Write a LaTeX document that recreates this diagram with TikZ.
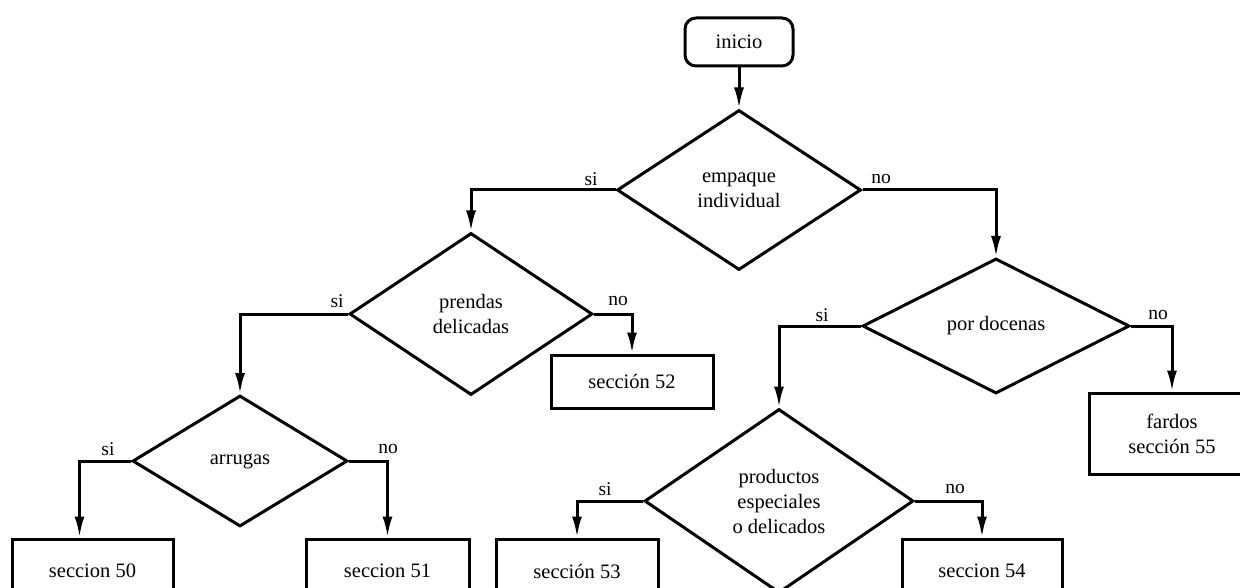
\documentclass[tikz,border=0pt]{standalone}
\usepackage{fontspec}
\setmainfont{Liberation Serif}
\usetikzlibrary{shapes.geometric,arrows.meta}

\begin{document}
\begin{tikzpicture}[
  x=1pt, y=-1pt,
  every node/.style={font=\fontsize{20.5}{25}\selectfont, align=center, inner sep=0pt},
  flow/.style={line width=3pt, line join=miter},
  arr/.style={flow, -{Latex[length=21pt,width=10pt]}},
  decision/.style={flow, draw, diamond},
  stepbox/.style={flow, draw, rectangle},
  startbox/.style={flow, draw, rectangle, rounded corners=11pt, minimum width=108pt, minimum height=48pt},
  lbl/.style={font=\fontsize{19.5}{23}\selectfont}
]
\useasboundingbox (0,0) rectangle (1240,588);
\clip (0,0) rectangle (1240,588);

% start
\node[startbox] (ini) at (739,42) {inicio};

% decisions
\node[decision, minimum width=244pt, minimum height=160pt] (d1) at (739,190) {empaque\\individual};
\node[decision, minimum width=243pt, minimum height=162pt] (d2) at (471,314) {prendas\\delicadas};
\node[decision, minimum width=215pt, minimum height=131pt] (d3) at (240,461) {arrugas};
\node[decision, minimum width=267pt, minimum height=135pt] (d4) at (996,326) {por docenas};
\node[decision, minimum width=269pt, minimum height=184pt] (d5) at (779,501) {productos\\especiales\\o delicados};

% destinations
\node[stepbox, minimum width=162pt, minimum height=53pt] (b52) at (632,381.5) {sección 52};
\node[stepbox, minimum width=161pt, minimum height=64pt] (b50) at (92.5,571) {seccion 50};
\node[stepbox, minimum width=163pt, minimum height=64pt] (b51) at (387.5,571) {seccion 51};
\node[stepbox, minimum width=162pt, minimum height=64pt] (b53) at (577,571) {sección 53};
\node[stepbox, minimum width=160pt, minimum height=64pt] (b54) at (982,571) {seccion 54};
\node[stepbox, minimum width=166pt, minimum height=81pt] (b55) at (1172,433.5) {fardos\\sección 55};

% connectors
\draw[arr] (ini.south) -- (d1.north);
\draw[arr] (d1.west) -| (d2.north);
\draw[arr] (d1.east) -| (d4.north);
\draw[arr] (d2.west) -| (d3.north);
\draw[arr] (d2.east) -| (b52.north);
\draw[arr] (d3.west) -| ([xshift=-13pt]b50.north);
\draw[arr] (d3.east) -| (b51.north);
\draw[arr] (d4.west) -| (d5.north);
\draw[arr] (d4.east) -| (b55.north);
\draw[arr] (d5.west) -| (b53.north);
\draw[arr] (d5.east) -| (b54.north);

% branch labels
\node[lbl] (s1) at (591,179) {si};
\node[lbl] (n1) at (881,179) {no};
\node[lbl] (s2) at (337,301) {si};
\node[lbl] (n2) at (618,301) {no};
\node[lbl] (s3) at (108,449) {si};
\node[lbl] (n3) at (388,449) {no};
\node[lbl] (s4) at (822,315) {si};
\node[lbl] (n4) at (1158,315) {no};
\node[lbl] (s5) at (605,489) {si};
\node[lbl] (n5) at (955,489) {no};
\end{tikzpicture}
\end{document}
